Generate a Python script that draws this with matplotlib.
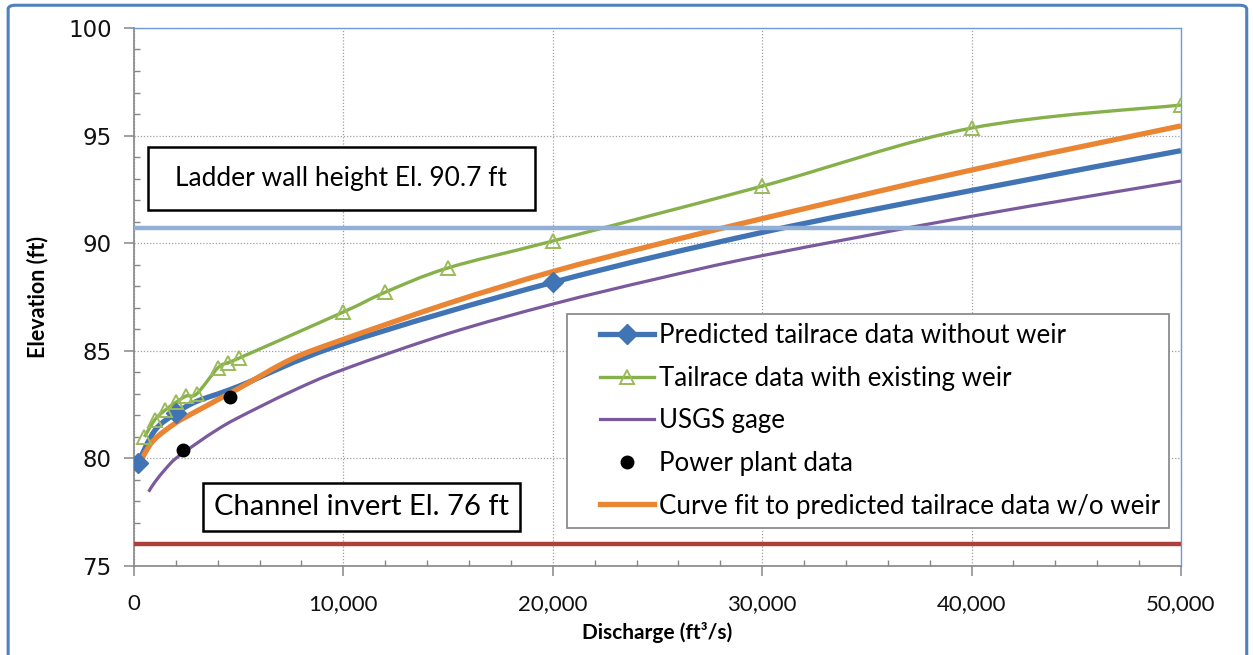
import numpy as np
import matplotlib.pyplot as plt
from matplotlib.path import Path
from matplotlib.patches import PathPatch, Rectangle, FancyBboxPatch
from matplotlib.lines import Line2D
from matplotlib.legend_handler import HandlerLine2D
from matplotlib.ticker import MultipleLocator, FuncFormatter

plt.rcParams['font.family'] = ['Lato', 'DejaVu Sans']

# Values
# Predicted tailrace data without weir
pred_q = [200, 1000, 2000, 3000, 5000, 10000, 20000, 30000, 40000, 50000]
pred_el = [79.8, 81.3, 82.1, 82.65, 83.35, 85.33, 88.18, 90.5, 92.45, 94.3]
pred_marker_idx = [0, 2, 6]

# Tailrace data with existing weir
weir_q = [500, 1000, 1500, 2000, 2500, 3000, 4000, 4500, 5000,
          10000, 12000, 15000, 20000, 30000, 40000, 50000]
weir_el = [81.0, 81.8, 82.25, 82.6, 82.9, 83.0, 84.2, 84.45, 84.65,
           86.8, 87.72, 88.85, 90.1, 92.65, 95.35, 96.42]

# USGS gage rating
usgs_q = [700, 1000, 1500, 2000, 3000, 4000, 5000, 7500, 10000,
          15000, 20000, 25000, 30000, 40000, 50000]
usgs_el = [78.45, 78.9, 79.5, 80.0, 80.7, 81.35, 81.9, 83.1, 84.13,
           85.8, 87.17, 88.35, 89.42, 91.25, 92.89]

# Power plant data
plant_q = [2340, 4570]
plant_el = [80.38, 82.85]

# Curve fit to predicted tailrace data w/o weir
fit_q = [100, 500, 1000, 2000, 3000, 5000, 7500, 10000, 15000,
         20000, 25000, 30000, 40000, 50000]
fit_el = [79.4, 80.2, 80.9, 81.65, 82.2, 83.25, 84.6, 85.53, 87.2,
          88.68, 89.95, 91.14, 93.4, 95.45]

ladder_el = 90.7
invert_el = 76.0

C_BLUE = '#4174B4'
C_GREEN = '#86B04A'
C_PURPLE = '#7A5A9C'
C_ORANGE = '#EA8533'
C_LADDER = '#93AFD6'
C_INVERT = '#AE403C'


def smooth_path(xs, ys):
    # Excel style smoothed line (Catmull-Rom segments as cubic Beziers)
    pts = np.column_stack([xs, ys]).astype(float)
    ext = np.vstack([pts[0], pts, pts[-1]])
    verts = [pts[0]]
    codes = [Path.MOVETO]
    for i in range(1, len(ext) - 2):
        p0, p1, p2, p3 = ext[i - 1], ext[i], ext[i + 1], ext[i + 2]
        verts += [p1 + (p2 - p0) / 6, p2 - (p3 - p1) / 6, p2]
        codes += [Path.CURVE4] * 3
    return Path(verts, codes)


fig = plt.figure(figsize=(12.53, 6.55), dpi=100)
ax = fig.add_axes([0.1069, 0.1359, 0.8356, 0.8214])

# outer chart border
fig.patches.append(FancyBboxPatch((0.0065, -0.05), 0.9885, 1.042,
                                  boxstyle='round,pad=0,rounding_size=0.006',
                                  transform=fig.transFigure, fill=False,
                                  edgecolor='#4F81BD', linewidth=2.2, clip_on=False))

def add_smooth(xs, ys, color, lw, z):
    ax.add_patch(PathPatch(smooth_path(xs, ys), facecolor='none', edgecolor=color,
                           linewidth=lw, capstyle='butt', joinstyle='round', zorder=z))

add_smooth(usgs_q, usgs_el, C_PURPLE, 2.3, 3)
add_smooth(pred_q, pred_el, C_BLUE, 3.8, 4)
add_smooth(fit_q, fit_el, C_ORANGE, 3.8, 5)
add_smooth(weir_q, weir_el, C_GREEN, 2.4, 6)

ax.plot([pred_q[i] for i in pred_marker_idx], [pred_el[i] for i in pred_marker_idx],
        linestyle='none', marker='D', markersize=10.5, color=C_BLUE, zorder=7)
ax.plot(weir_q, weir_el, linestyle='none', marker='^', markersize=10.5,
        markerfacecolor='none', markeredgecolor='#9BBB59', markeredgewidth=1.4, zorder=7)
ax.plot(plant_q, plant_el, linestyle='none', marker='o', markersize=9,
        color='black', zorder=8)

ax.axhline(ladder_el, color=C_LADDER, linewidth=3.2, zorder=9)
ax.axhline(invert_el, color=C_INVERT, linewidth=3.2, zorder=9)

ax.set_xlim(0, 50000)
ax.set_ylim(75, 100)
ax.xaxis.set_major_locator(MultipleLocator(10000))
ax.xaxis.set_minor_locator(MultipleLocator(2000))
ax.yaxis.set_major_locator(MultipleLocator(5))
ax.yaxis.set_minor_locator(MultipleLocator(1))
ax.xaxis.set_major_formatter(FuncFormatter(lambda v, p: f'{int(v):,}'))

ax.grid(True, which='major', linestyle=(0, (1, 1.5)), color='#A0A0A0', linewidth=0.9)
ax.set_axisbelow(True)

for s in ['left', 'bottom']:
    ax.spines[s].set_color('#868686')
    ax.spines[s].set_linewidth(1.2)
for s in ['top', 'right']:
    ax.spines[s].set_color('#6F9BD8')
    ax.spines[s].set_linewidth(1.0)

ax.tick_params(which='major', direction='out', length=7, width=1.1, color='#868686')
ax.tick_params(which='minor', direction='in', length=4.5, width=1.0, color='#868686')
ax.tick_params(axis='x', which='major', labelsize=16, pad=13, labelcolor='#111111')
ax.tick_params(axis='y', which='major', labelsize=16.5, pad=9, labelcolor='#111111')
for lab in ax.get_yticklabels():
    lab.set_fontfamily('DejaVu Sans')

ax.set_xlabel('Discharge (ft\u00b3/s)', fontsize=15, fontweight='bold', labelpad=6)
ax.set_ylabel('Elevation (ft)', fontsize=15.5, fontweight='bold', labelpad=14)

# annotation boxes
ax.add_patch(Rectangle((670, 91.55), 18480, 2.92, facecolor='white', edgecolor='black',
                       linewidth=1.8, zorder=10))
ax.text(670 + 18480 / 2, 91.55 + 2.92 / 2, 'Ladder wall height El. 90.7 ft', fontsize=19,
        ha='center', va='center', zorder=11)
ax.add_patch(Rectangle((3300, 76.63), 15130, 2.23, facecolor='white', edgecolor='black',
                       linewidth=1.8, zorder=10))
ax.text(3300 + 15130 / 2, 76.63 + 2.23 / 2, 'Channel invert El. 76 ft', fontsize=21,
        ha='center', va='center', zorder=11)

handles = [
    Line2D([], [], color=C_BLUE, linewidth=3.8, marker='D', markersize=10),
    Line2D([], [], color=C_GREEN, linewidth=2.4, marker='^', markersize=10.5,
           markerfacecolor='none', markeredgecolor='#9BBB59', markeredgewidth=1.4),
    Line2D([], [], color=C_PURPLE, linewidth=2.3),
    Line2D([], [], color='black', linestyle='none', marker='o', markersize=9),
    Line2D([], [], color=C_ORANGE, linewidth=3.8),
]
labels = ['Predicted tailrace data without weir', 'Tailrace data with existing weir',
          'USGS gage', 'Power plant data', 'Curve fit to predicted tailrace data w/o weir']
leg = ax.legend(handles, labels, loc='upper left', bbox_to_anchor=(0.4136, 0.468),
                fontsize=18.6, frameon=True, fancybox=False, framealpha=1,
                edgecolor='#8C8C8C', handlelength=3.0, handletextpad=0.2,
                labelspacing=0.68, borderpad=0.35, borderaxespad=0,
                handler_map={Line2D: HandlerLine2D(xpad=0.92)})
leg.get_frame().set_linewidth(1.3)
leg.set_zorder(12)

fig.savefig('out.png', dpi=100)
